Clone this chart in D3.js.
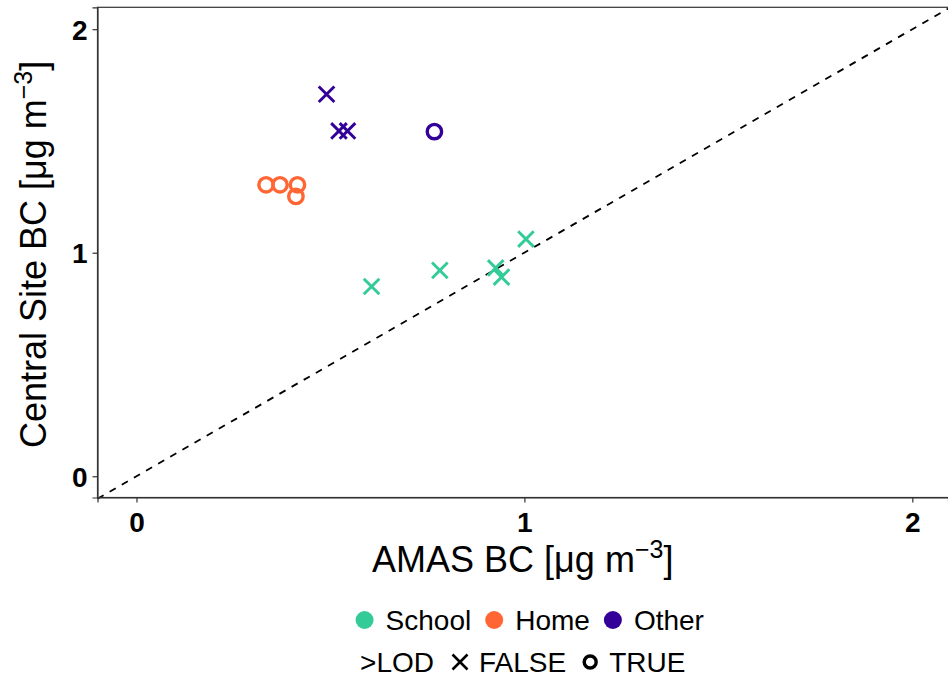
<!DOCTYPE html>
<html>
<head>
<meta charset="utf-8">
<script src="https://cdn.jsdelivr.net/npm/d3@7"></script>
<style>
  html, body { margin: 0; padding: 0; background: #fff; }
  svg { display: block; font-family: "Liberation Sans", Arial, Helvetica, sans-serif; }
</style>
</head>
<body>
<svg id="chart" width="948" height="683"></svg>
<script>
// Black carbon: portable monitor (AMAS) vs. central site, by location type
const locations = ["School", "Home", "Other"];
const locationColors = ["#33CC99", "#FF6633", "#330099"];
const lodLevels = ["FALSE", "TRUE"];

const amasBC    = [0.606, 0.782, 0.926, 0.941, 1.004, 0.334, 0.370, 0.415, 0.411, 0.490, 0.522, 0.544, 0.768];
const centralBC = [0.849, 0.921, 0.932, 0.891, 1.061, 1.304, 1.304, 1.304, 1.252, 1.709, 1.545, 1.545, 1.542];
const siteType  = ["School","School","School","School","School","Home","Home","Home","Home","Other","Other","Other","Other"];
const aboveLOD  = ["FALSE","FALSE","FALSE","FALSE","FALSE","TRUE","TRUE","TRUE","TRUE","FALSE","FALSE","FALSE","TRUE"];

const xTicks = [0, 1, 2];
const yTicks = [0, 1, 2];
const xDomain = [-0.1005, 2.092];
const yDomain = [-0.095, 2.098];

const points = amasBC.map((v, i) => ({ x: v, y: centralBC[i], loc: siteType[i], lod: aboveLOD[i] }));

const svg = d3.select("#chart");
const panel = { left: 97.5, top: 7.3, right: 948, bottom: 497.5 };

const x = d3.scaleLinear().domain(xDomain).range([panel.left, panel.right]);
const y = d3.scaleLinear().domain(yDomain).range([panel.bottom, panel.top]);
const color = d3.scaleOrdinal().domain(locations).range(locationColors);

// 1:1 reference line
svg.append("line")
  .attr("x1", x(xDomain[0])).attr("y1", y(xDomain[0]))
  .attr("x2", x(xDomain[1])).attr("y2", y(xDomain[1]))
  .attr("stroke", "#000").attr("stroke-width", 1.8)
  .attr("stroke-dasharray", "7,7");

// panel frame
svg.append("rect")
  .attr("x", panel.left).attr("y", panel.top)
  .attr("width", panel.right - panel.left + 2).attr("height", panel.bottom - panel.top)
  .attr("fill", "none").attr("stroke", "#333").attr("stroke-width", 1.2);

// axes
const xAxis = svg.append("g")
  .attr("transform", `translate(0,${panel.bottom})`)
  .call(d3.axisBottom(x).tickValues(xTicks).tickFormat(d3.format("d")).tickSize(5).tickPadding(10));
const yAxis = svg.append("g")
  .attr("transform", `translate(${panel.left},0)`)
  .call(d3.axisLeft(y).tickValues(yTicks).tickFormat(d3.format("d")).tickSize(5).tickPadding(5));
[xAxis, yAxis].forEach(g => {
  g.select(".domain").attr("stroke", "#333").attr("stroke-width", 1.2);
  g.selectAll(".tick line").attr("stroke", "#333").attr("stroke-width", 1.2);
  g.selectAll(".tick text")
    .attr("fill", "#000")
    .attr("font-size", 28).attr("font-weight", "bold")
    .attr("font-family", "'Liberation Sans', Arial, sans-serif");
});
xAxis.selectAll(".tick text").attr("dy", "0.71em");
yAxis.selectAll(".tick text").attr("dy", "0.36em");

// markers
const crossPath = s => `M${-s},${-s}L${s},${s}M${-s},${s}L${s},${-s}`;
const marks = svg.append("g");
points.forEach(p => {
  const g = marks.append("g").attr("transform", `translate(${x(p.x)},${y(p.y)})`);
  if (p.lod === "TRUE") {
    g.append("circle").attr("r", 7.2).attr("fill", "none")
      .attr("stroke", color(p.loc)).attr("stroke-width", 3.4);
  } else {
    g.append("path").attr("d", crossPath(7.8)).attr("fill", "none")
      .attr("stroke", color(p.loc)).attr("stroke-width", 2.9);
  }
});

// axis titles
const xTitle = svg.append("text")
  .attr("x", (panel.left + panel.right) / 2).attr("y", 572)
  .attr("text-anchor", "middle").attr("font-size", 36).attr("fill", "#000");
xTitle.append("tspan").text("AMAS BC [\u03BCg m");
xTitle.append("tspan").attr("dy", -14).attr("font-size", 25).text("\u22123");
xTitle.append("tspan").attr("dy", 14).text("]");

const yTitle = svg.append("text")
  .attr("transform", `translate(46,${(panel.top + panel.bottom) / 2 + 2}) rotate(-90)`)
  .attr("text-anchor", "middle").attr("font-size", 36).attr("fill", "#000");
yTitle.append("tspan").text("Central Site BC [\u03BCg m");
yTitle.append("tspan").attr("dy", -14).attr("font-size", 25).text("\u22123");
yTitle.append("tspan").attr("dy", 14).text("]");

// legend: location colour
const legend = svg.append("g").attr("font-size", 28);
const row1 = legend.append("g");
let cx = 0;
locations.forEach((loc, i) => {
  row1.append("circle").attr("cx", cx + 9).attr("cy", 0).attr("r", 9).attr("fill", locationColors[i]);
  const t = row1.append("text").attr("x", cx + 30).attr("y", 0).attr("dy", "0.36em").text(loc);
  cx += 30 + t.node().getComputedTextLength() + 14;
});
const w1 = cx - 14;
row1.attr("transform", `translate(${(panel.left + panel.right) / 2 - w1 / 2 + 7},620)`);

// legend: above limit of detection (shape)
const row2 = legend.append("g");
const title2 = row2.append("text").attr("x", 0).attr("y", 0).attr("dy", "0.36em").text(">LOD");
cx = title2.node().getComputedTextLength() + 17;
lodLevels.forEach(l => {
  const g = row2.append("g").attr("transform", `translate(${cx + 9},0)`);
  if (l === "TRUE") {
    g.append("circle").attr("r", 6).attr("fill", "none").attr("stroke", "#000").attr("stroke-width", 3.4);
  } else {
    g.append("path").attr("d", crossPath(7.5)).attr("stroke", "#000").attr("stroke-width", 2.6);
  }
  const t = row2.append("text").attr("x", cx + 28).attr("y", 0).attr("dy", "0.36em").text(l);
  cx += 28 + t.node().getComputedTextLength() + 15;
});
const w2 = cx - 15;
row2.attr("transform", `translate(${(panel.left + panel.right) / 2 - w2 / 2},662)`);
</script>
</body>
</html>
